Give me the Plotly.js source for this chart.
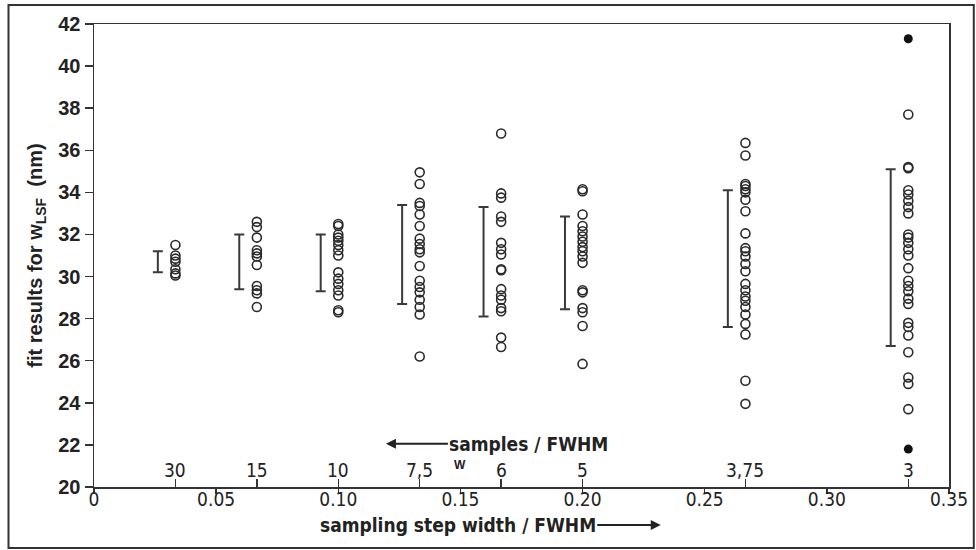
<!DOCTYPE html>
<html>
<head>
<meta charset="utf-8">
<script src="https://cdn.plot.ly/plotly-3.0.1.min.js"></script>
<style>html,body{margin:0;padding:0;background:#fff;}#chart{width:976px;height:550px;}</style>
</head>
<body>
<div id="chart"></div>
<script>
// samples per FWHM for each column (x = 1/samples)
const samples = [30, 15, 10, 7.5, 6, 5, 3.75, 3];
const sampleLabels = ["30", "15", "10", "7,5", "6", "5", "3,75", "3"];

// fit results (nm), open circles, per column
const pts30  = [31.5, 31.0, 30.85, 30.7, 30.35, 30.15, 30.05];
const pts15  = [32.6, 32.35, 31.85, 31.25, 31.1, 30.95, 30.55, 29.55, 29.35, 29.2, 28.55];
const pts10  = [32.5, 32.4, 32.0, 31.85, 31.7, 31.5, 31.25, 31.0, 30.2, 29.9, 29.65, 29.35, 29.1, 28.4, 28.3];
const pts75  = [34.95, 34.4, 33.5, 33.35, 32.95, 32.4, 31.8, 31.55, 31.3, 31.15, 30.5, 29.8, 29.5, 29.25, 28.9, 28.55, 28.2, 26.2];
const pts6   = [36.8, 33.95, 33.75, 32.85, 32.6, 31.6, 31.3, 31.05, 30.35, 30.3, 29.4, 29.1, 28.9, 28.5, 28.35, 27.1, 26.65];
const pts5   = [34.15, 34.05, 32.95, 32.4, 32.15, 31.9, 31.65, 31.4, 31.2, 30.95, 30.65, 29.35, 29.25, 28.5, 28.3, 27.65, 25.85];
const pts375 = [36.35, 35.75, 34.4, 34.3, 34.15, 34.0, 33.65, 33.1, 32.05, 31.35, 31.2, 30.95, 30.6, 30.25, 29.65, 29.35, 29.05, 28.85, 28.55, 28.2, 27.75, 27.25, 25.05, 23.95];
const pts3   = [37.7, 35.2, 35.15, 34.1, 33.9, 33.6, 33.3, 33.0, 32.0, 31.85, 31.6, 31.3, 31.0, 30.4, 29.8, 29.55, 29.3, 28.95, 28.7, 27.8, 27.6, 27.2, 26.4, 25.2, 24.9, 23.7];
// filled circles (column 3)
const filled3 = [41.3, 21.8];

// error-bar range per column
const barLow  = [30.2, 29.4, 29.3, 28.7, 28.1, 28.45, 27.6, 26.7];
const barHigh = [31.2, 32.0, 32.0, 33.4, 33.3, 32.85, 34.1, 35.1];

const columns = [pts30, pts15, pts10, pts75, pts6, pts5, pts375, pts3];
const colX = samples.map(s => 1 / s);

const px = [], py = [];
columns.forEach((col, i) => col.forEach(v => { px.push(colX[i]); py.push(v); }));

const barOffset = 0.0072;
const barMid = barLow.map((l, i) => (l + barHigh[i]) / 2);

const ink = '#2a2a2a';
const traces = [
  {
    x: px, y: py, type: 'scatter', mode: 'markers', xaxis: 'x', yaxis: 'y',
    marker: {symbol: 'circle-open', size: 9, color: ink, line: {width: 1.6, color: ink}},
    showlegend: false
  },
  {
    x: filled3.map(() => colX[colX.length - 1]), y: filled3, type: 'scatter', mode: 'markers',
    marker: {symbol: 'circle', size: 9, color: '#111'}, showlegend: false
  },
  {
    x: colX.map(x => x - barOffset), y: barMid, type: 'scatter', mode: 'markers',
    marker: {size: 1, color: 'rgba(0,0,0,0)'},
    error_y: {type: 'data', symmetric: false,
      array: barHigh.map((h, i) => h - barMid[i]),
      arrayminus: barLow.map((l, i) => barMid[i] - l),
      color: '#3a3a3a', thickness: 2, width: 5},
    showlegend: false
  },
  {x: [], y: [], xaxis: 'x2', yaxis: 'y', type: 'scatter', showlegend: false}
];

const narrow = 'Liberation Sans Narrow, DejaVu Sans Condensed, Liberation Sans, Arial, sans-serif';
const tickFont = {family: narrow, size: 19, color: '#222'};
const boldFont = {family: narrow, size: 19, color: '#222', weight: 'bold'};

const annotations = samples.map((s, i) => ({
  x: colX[i], y: 20.8, xref: 'x', yref: 'y', text: sampleLabels[i],
  showarrow: false, font: tickFont, yanchor: 'middle'
}));
annotations.push({x: 0.15, y: 21.05, xref: 'x', yref: 'y', text: '<b>W</b>', showarrow: false,
  font: {family: 'Liberation Sans, Arial, sans-serif', size: 12, color: '#222'}});
// "samples / FWHM" with left-pointing arrow
annotations.push({x: 0.1195, y: 22.05, xref: 'x', yref: 'y', text: '<b>samples / FWHM</b>',
  showarrow: true, ax: 143, ay: 0, arrowhead: 2, arrowsize: 1, arrowwidth: 2, arrowcolor: '#222',
  standoff: 0, font: boldFont});
// x axis title with right-pointing arrow
annotations.push({x: 0.232, y: -0.082, xref: 'x', yref: 'paper', text: '<b>sampling step width / FWHM</b>',
  showarrow: true, ax: -203, ay: 0, arrowhead: 2, arrowsize: 1, arrowwidth: 2, arrowcolor: '#222',
  standoff: 0, font: boldFont});

const layout = {
  width: 976, height: 550,
  margin: {l: 94, r: 27, t: 24, b: 63},
  paper_bgcolor: '#fff', plot_bgcolor: '#fff',
  showlegend: false,
  xaxis: {
    range: [0, 0.35], tickvals: [0, 0.05, 0.10, 0.15, 0.20, 0.25, 0.30, 0.35],
    ticktext: ['0', '0.05', '0.10', '0.15', '0.20', '0.25', '0.30', '0.35'],
    ticks: 'outside', ticklen: 5, tickwidth: 1.5, tickcolor: '#333',
    ticklabelstandoff: -10,
    showline: true, linecolor: '#333', linewidth: 1.5, mirror: true,
    showgrid: false, zeroline: false, tickfont: tickFont
  },
  xaxis2: {
    range: [0, 0.35], overlaying: 'x', anchor: 'y', side: 'bottom',
    tickvals: colX, showticklabels: false,
    ticks: 'inside', ticklen: 8, tickwidth: 1.5, tickcolor: '#333',
    showline: false, showgrid: false, zeroline: false
  },
  yaxis: {
    range: [20, 42], dtick: 2, tick0: 20,
    ticks: 'outside', ticklen: 8, tickwidth: 1.5, tickcolor: '#333',
    showline: true, linecolor: '#333', linewidth: 1.5, mirror: true,
    showgrid: false, zeroline: false,
    tickfont: {family: 'Liberation Sans, Arial, sans-serif', size: 20, color: '#222', weight: 'bold'},
    title: {text: '<b>fit results for w<sub>LSF</sub>  (nm)</b>', standoff: 10,
      font: {family: 'Liberation Sans, Arial, sans-serif', size: 20, color: '#222'}}
  },
  annotations: annotations,
  shapes: [{type: 'rect', xref: 'paper', yref: 'paper', x0: -0.1, x1: 1.029, y0: -0.132, y1: 1.041,
    line: {color: '#333', width: 2}, fillcolor: 'rgba(0,0,0,0)'}]
};

Plotly.newPlot('chart', traces, layout, {displayModeBar: false, staticPlot: true});
</script>
</body>
</html>
